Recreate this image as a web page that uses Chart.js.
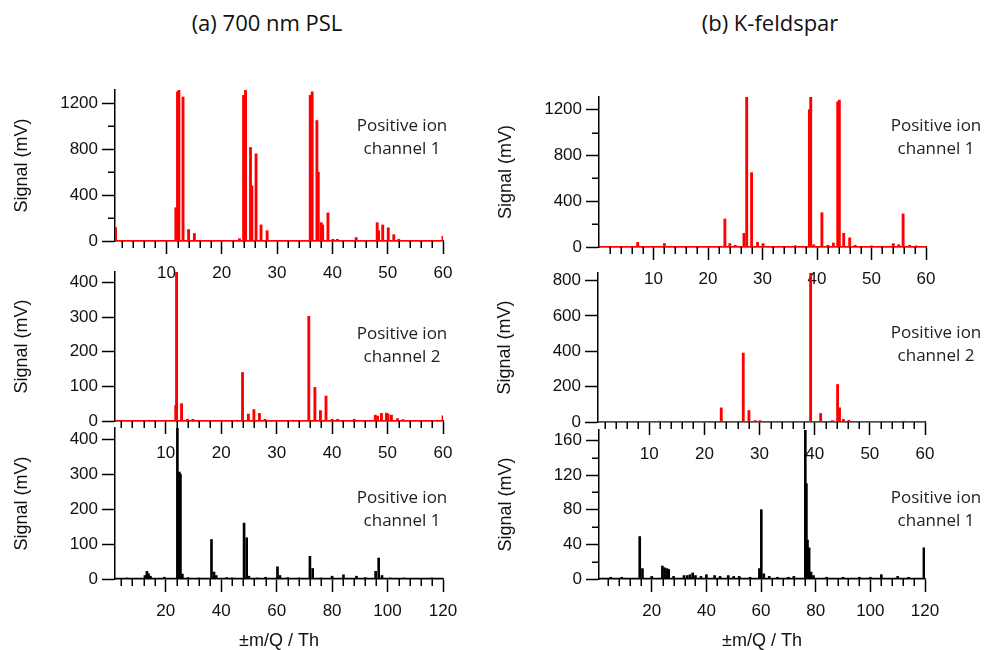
<!DOCTYPE html>
<html>
<head>
<meta charset="utf-8">
<script src="https://cdn.jsdelivr.net/npm/chart.js@4.4.1/dist/chart.umd.min.js"></script>
<style>
  html, body { margin:0; padding:0; background:#fff; }
  body { width:984px; height:650px; position:relative; overflow:hidden; }
  canvas { position:absolute; }
  .ttl { position:absolute; font-family:"Open Sans","Noto Sans",sans-serif; font-size:22px; color:#111; white-space:nowrap; transform:translateX(-50%); line-height:26px; }
  .ann { position:absolute; font-family:"Open Sans","Noto Sans",sans-serif; font-size:17px; color:#222; text-align:center; width:140px; line-height:23px; }
</style>
</head>
<body>
<script>
// ---------- DATA ----------
const columnTitles = ['(a) 700 nm PSL', '(b) K-feldspar'];
const channelLabels = ['Positive ion\nchannel 1', 'Positive ion\nchannel 2', 'Positive ion\nchannel 1'];
const yTitle = 'Signal (mV)';
const xTitle = '\u00b1m/Q / Th';

// tick labels
const xTicks60  = [10, 20, 30, 40, 50, 60];
const xTicks120 = [20, 40, 60, 80, 100, 120];
const yTicks1200 = [0, 400, 800, 1200];
const yTicks400  = [0, 100, 200, 300, 400];
const yTicks800  = [0, 200, 400, 600, 800];
const yTicks160  = [0, 40, 80, 120, 160];

// (a) 700 nm PSL, positive ion channel 1 (red), m/Q 0-60
const pslCh1_mz = [0.8, 11.7, 12.0, 12.25, 13.0, 14.0, 15.05, 23.2, 23.95, 24.3, 25.2, 25.45, 26.2, 27.1, 28.2, 36.0, 36.35, 37.2, 37.45, 38.0, 38.25, 39.2, 40.1, 40.9, 44.3, 48.1, 48.35, 49.1, 50.1, 51.1, 52.0, 60.0];
const pslCh1_mV = [117, 290, 1300, 1320, 1255, 100, 65, 20, 1270, 1320, 815, 480, 760, 140, 90, 1270, 1300, 1050, 600, 160, 140, 245, 15, 15, 30, 160, 90, 140, 115, 55, 15, 40];

// (a) 700 nm PSL, positive ion channel 2 (red), m/Q 0-60
const pslCh2_mz = [11.8, 11.95, 12.85, 13.9, 14.9, 23.85, 24.9, 25.9, 26.9, 27.9, 35.8, 36.9, 37.9, 38.9, 40.0, 41.0, 44.0, 47.8, 48.2, 48.9, 49.8, 50.1, 50.7, 51.8, 52.8, 60.0];
const pslCh2_mV = [45, 440, 50, 5, 5, 140, 20, 33, 22, 5, 302, 97, 30, 72, 5, 5, 5, 17, 14, 22, 23, 20, 17, 7, 4, 15];

// (a) 700 nm PSL, positive ion channel 1 (black), m/Q 0-120
const pslWide_mz = [6, 9, 12.5, 13.2, 13.8, 14.5, 19.5, 24.2, 24.9, 25.3, 26.0, 28, 32, 36.5, 37.4, 38.2, 42, 44, 48.25, 49.2, 50, 53, 56, 60.3, 61.2, 64, 68, 72.0, 73.0, 76, 80.0, 84.1, 88.8, 92, 95.7, 96.8, 98, 101, 106, 110, 116];
const pslWide_mV = [3, 2, 10, 22, 15, 8, 5, 440, 306, 300, 14, 4, 3, 113, 20, 10, 4, 3, 160, 118, 8, 3, 5, 35, 10, 4, 3, 65, 30, 3, 8, 12, 8, 4, 22, 60, 10, 3, 3, 2, 3];

// (b) K-feldspar, positive ion channel 1 (red), m/Q 0-60
const kfCh1_mz = [7.1, 12.0, 23.1, 24.0, 25.0, 26.6, 27.1, 28.0, 29.1, 30.1, 36.0, 38.6, 38.85, 39.4, 40.9, 42.0, 43.0, 43.8, 44.1, 44.9, 46.0, 47.0, 50.0, 54.0, 55.0, 55.8, 57.0, 58.2];
const kfCh1_mV = [40, 30, 245, 30, 15, 120, 1320, 650, 40, 30, 12, 1200, 1320, 20, 300, 15, 35, 1270, 1285, 120, 80, 15, 10, 30, 20, 290, 15, 10];

// (b) K-feldspar, positive ion channel 2 (red), m/Q 0-60
const kfCh2_mz = [11.9, 23.05, 27.04, 28.07, 29.2, 30.1, 39.26, 41.08, 43.2, 44.15, 44.5, 45.2, 46.2, 56.2];
const kfCh2_mV = [5, 80, 390, 65, 8, 8, 860, 48, 8, 212, 80, 15, 10, 5];

// (b) K-feldspar, positive ion channel 1 (black), m/Q 0-120
const kfWide_mz = [5, 9, 15.6, 16.6, 20, 23.9, 24.7, 25.6, 26.2, 28, 31.8, 33, 34, 35, 36, 38, 40, 43, 45, 48, 50, 52, 56, 59.4, 60.1, 61, 63, 66, 70, 72, 76.2, 76.6, 77.0, 77.6, 78.3, 79.2, 84, 90, 96, 100, 104, 110, 114, 119.6, 120];
const kfWide_mV = [2, 2, 49, 12, 3, 15, 13, 12, 11, 3, 4, 4, 5, 7, 4, 3, 5, 4, 3, 4, 3, 3, 2, 12, 80, 6, 3, 2, 2, 3, 180, 110, 45, 36, 8, 4, 2, 2, 2, 2, 5, 3, 2, 36, 15];

// ---------- LAYOUT / STYLE ----------
const RED = '#ff0000', BLACK = '#000000';
const Y_W = 104, PAD_T = 20, PAD_R = 30;
const TICK_FONT = {family: '"Liberation Sans", Arial, sans-serif', size: 17};
const TITLE_FONT = {family: '"Liberation Sans", Arial, sans-serif', size: 18};

const panels = [
  {L:115, T:90,  R:443, B:241, xmin:0.7,  xmax:60,  xt:xTicks60,  xMinor:2, ymax:1316, yt:yTicks1200, yMinor:200, color:RED,   mz:pslCh1_mz,  mv:pslCh1_mV,  bw:2.2, xTitle:false, ann:0, ax:402, ay:113},
  {L:115, T:272, R:443, B:421, xmin:0.85, xmax:60,  xt:xTicks60,  xMinor:2, ymax:430,  yt:yTicks400,  yMinor:0,   color:RED,   mz:pslCh2_mz,  mv:pslCh2_mV,  bw:2.2, xTitle:false, ann:1, ax:402, ay:321},
  {L:115, T:428, R:443, B:579, xmin:1.7,  xmax:120, xt:xTicks120, xMinor:4, ymax:432,  yt:yTicks400,  yMinor:0,   color:BLACK, mz:pslWide_mz, mv:pslWide_mV, bw:2,   xTitle:true,  ann:2, ax:402, ay:485},
  {L:599, T:97,  R:926, B:247, xmin:0,    xmax:60,  xt:xTicks60,  xMinor:2, ymax:1312, yt:yTicks1200, yMinor:200, color:RED,   mz:kfCh1_mz,   mv:kfCh1_mV,   bw:2.2, xTitle:false, ann:0, ax:936, ay:113},
  {L:598, T:273, R:925, B:422, xmin:0.7,  xmax:60,  xt:xTicks60,  xMinor:2, ymax:842,  yt:yTicks800,  yMinor:0,   color:RED,   mz:kfCh2_mz,   mv:kfCh2_mV,   bw:2.2, xTitle:false, ann:1, ax:936, ay:320},
  {L:599, T:430, R:925, B:579, xmin:0.7,  xmax:120, xt:xTicks120, xMinor:4, ymax:172,  yt:yTicks160,  yMinor:20,  color:BLACK, mz:kfWide_mz,  mv:kfWide_mV,  bw:2,   xTitle:true,  ann:2, ax:936, ay:485},
];

// column titles
[[267, 9], [770, 9]].forEach((p, i) => {
  const d = document.createElement('div');
  d.className = 'ttl';
  d.style.left = p[0] + 'px'; d.style.top = p[1] + 'px';
  d.textContent = columnTitles[i];
  document.body.appendChild(d);
});

const isMajor = (v, arr) => arr.some(t => Math.abs(t - v) < 1e-6);

const minorTicks = {
  id: 'minorTicks',
  afterDraw(chart, args, o) {
    const {ctx, chartArea} = chart;
    const xs = chart.scales.x, ys = chart.scales.y;
    ctx.save();
    ctx.strokeStyle = '#000';
    ctx.lineWidth = 1.5;
    ctx.beginPath();
    if (o.xMinor) {
      for (let k = Math.ceil(xs.min / o.xMinor); k * o.xMinor <= xs.max + 1e-9; k++) {
        const v = k * o.xMinor;
        if (v <= xs.min || isMajor(v, o.xt)) continue;
        const px = Math.round(xs.getPixelForValue(v)) + 0.25;
        ctx.moveTo(px, chartArea.bottom);
        ctx.lineTo(px, chartArea.bottom + 7);
      }
    }
    if (o.yMinor) {
      for (let k = 1; k * o.yMinor <= ys.max + 1e-9; k++) {
        const v = k * o.yMinor;
        if (isMajor(v, o.yt)) continue;
        const py = Math.round(ys.getPixelForValue(v)) + 0.25;
        ctx.moveTo(chartArea.left, py);
        ctx.lineTo(chartArea.left - 7, py);
      }
    }
    ctx.stroke();
    ctx.restore();
  }
};

panels.forEach(p => {
  const Hx = p.xTitle ? (652 - p.B) : 50;
  const cv = document.createElement('canvas');
  const W = (p.R - p.L) + Y_W + PAD_R;
  const H = (p.B - p.T) + PAD_T + Hx;
  cv.width = W; cv.height = H;
  cv.style.left = (p.L - Y_W) + 'px';
  cv.style.top = (p.T - PAD_T) + 'px';
  cv.style.width = W + 'px'; cv.style.height = H + 'px';
  document.body.appendChild(cv);

  const grid = {drawOnChartArea:false, drawTicks:true, tickLength:13, tickColor:'#000', tickWidth:1.5, offset:false};
  new Chart(cv, {
    type: 'bar',
    data: {
      datasets: [
        {
          type: 'line',
          data: [{x:p.xmin, y:0}, {x:p.xmax, y:0}],
          borderColor: p.color, borderWidth: p.color === BLACK ? 2.5 : 2,
          pointRadius: 0, fill: false, order: 2
        },
        {
          type: 'bar',
          data: p.mz.map((x, i) => ({x, y: p.mv[i]})),
          backgroundColor: p.color, borderWidth: 0,
          barThickness: p.bw, grouped: false, order: 1
        }
      ]
    },
    options: {
      responsive: false,
      animation: false,
      events: [],
      layout: {padding: {left:0, top:PAD_T, right:PAD_R, bottom:0}},
      plugins: {legend:{display:false}, tooltip:{enabled:false}, minorTicks: {xMinor:p.xMinor, xt:p.xt, yMinor:p.yMinor, yt:p.yt}},
      scales: {
        x: {
          type: 'linear', min: p.xmin, max: p.xmax, offset: false,
          grid: grid,
          border: {display:true, color:'#000', width:1.5},
          ticks: {autoSkip:false, maxRotation:0, padding:9, color:'#111', font:TICK_FONT, callback: v => String(v)},
          afterBuildTicks: s => { s.ticks = p.xt.map(v => ({value: v})); },
          title: {display:p.xTitle, text:xTitle, color:'#111', font:TITLE_FONT, padding:{top:0, bottom:0}},
          afterFit: s => { s.height = Hx; }
        },
        y: {
          type: 'linear', min: 0, max: p.ymax,
          grid: grid,
          border: {display:true, color:'#000', width:1.5},
          ticks: {autoSkip:false, padding:4, color:'#111', font:TICK_FONT, callback: v => String(v)},
          afterBuildTicks: s => { s.ticks = p.yt.map(v => ({value: v})); },
          title: {display:true, text:yTitle, color:'#111', font:TITLE_FONT, padding:{top:0, bottom:0}},
          afterFit: s => { s.width = Y_W; }
        }
      }
    },
    plugins: [minorTicks]
  });

  const a = document.createElement('div');
  a.className = 'ann';
  a.style.left = (p.ax - 70) + 'px';
  a.style.top = p.ay + 'px';
  a.innerText = channelLabels[p.ann];
  document.body.appendChild(a);
});
</script>
</body>
</html>
